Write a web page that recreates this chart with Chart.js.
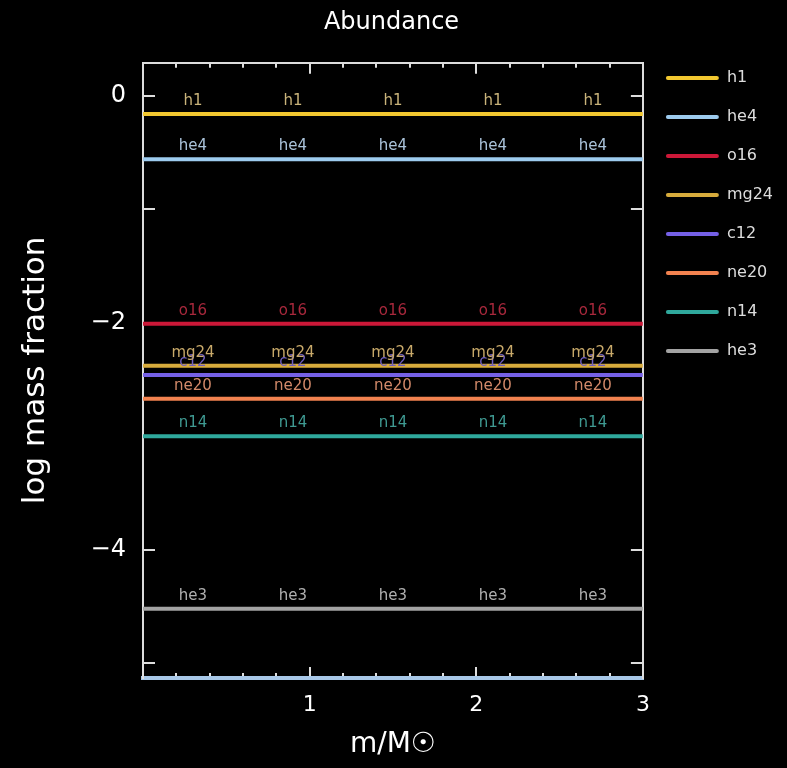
<!DOCTYPE html>
<html>
  <head>
    <style>
      html, body { margin: 0; padding: 0; background: #000; }
      canvas { display: block; }
    </style>
    <script src="https://cdn.jsdelivr.net/npm/chart.js"></script>
  </head>
  <body>
    <canvas id="abundChart" width="787" height="768"></canvas>

    <script>
      // mass coordinate (m/Msun) at the two ends of each profile
      var massPts = [0, 3];

      // log10 mass fraction for each species
      var h1   = [-0.16, -0.16];
      var he4  = [-0.56, -0.56];
      var o16  = [-2.01, -2.01];
      var mg24 = [-2.38, -2.38];
      var c12  = [-2.46, -2.46];
      var ne20 = [-2.67, -2.67];
      var n14  = [-3.00, -3.00];
      var he3  = [-4.52, -4.52];

      var speciesNames = ['h1', 'he4', 'o16', 'mg24', 'c12', 'ne20', 'n14', 'he3'];
      var speciesData  = [h1, he4, o16, mg24, c12, ne20, n14, he3];

      // where the species names are written along each curve
      var labelMass = [0.3, 0.9, 1.5, 2.1, 2.7];

      // y tick labels shown (every other integer)
      var yTickLabels = [0, -2, -4];
      // x tick labels shown
      var xTickLabels = [1, 2, 3];

      var lineColors = ['#f2c830', '#9dcbee', '#cc1838', '#d7ab3c', '#7560e6', '#f2824f', '#2fa89c', '#a3a3a3'];
      var textColors = ['#c9b37a', '#aac3da', '#a8283c', '#c9aa6a', '#6f5fc0', '#d38a6a', '#3f9a92', '#b0b0b0'];

      var datasets = speciesNames.map(function (name, i) {
        return {
          label: name,
          data: massPts.map(function (m, k) { return { x: m, y: speciesData[i][k] }; }),
          borderColor: lineColors[i],
          backgroundColor: lineColors[i],
          borderWidth: 4,
          pointRadius: 0,
          fill: false
        };
      });

      var blackBg = {
        id: 'blackBg',
        beforeDraw: function (chart) {
          var c = chart.ctx;
          c.save();
          c.fillStyle = '#000';
          c.fillRect(0, 0, chart.width, chart.height);
          c.restore();
        }
      };

      // names written just above each curve
      var curveLabels = {
        id: 'curveLabels',
        afterDatasetsDraw: function (chart) {
          var c = chart.ctx, xs = chart.scales.x, ys = chart.scales.y;
          c.save();
          c.font = '15px "DejaVu Sans"';
          c.textAlign = 'center';
          c.textBaseline = 'alphabetic';
          for (var i = chart.data.datasets.length - 1; i >= 0; i--) {
            var ds = chart.data.datasets[i];
            var py = ys.getPixelForValue(ds.data[0].y);
            c.fillStyle = textColors[i];
            labelMass.forEach(function (m) {
              c.fillText(ds.label, xs.getPixelForValue(m), py - 9);
            });
          }
          c.restore();
        }
      };

      var FONT = '"DejaVu Sans", sans-serif';
      var AXIS = '#dddddd';
      var yMin = -5.13, yMax = 0.29;

      function hiddenAxis(pos, min, max, step, tick, weight) {
        var horiz = pos === 'top' || pos === 'bottom';
        return {
          type: 'linear', position: pos, min: min, max: max, weight: weight,
          border: { display: false },
          grid: { drawOnChartArea: false, color: AXIS, lineWidth: 2, tickLength: tick },
          ticks: { display: false, stepSize: step, includeBounds: false },
          afterFit: function (s) { if (horiz) s.height = 0; else s.width = 0; }
        };
      }

      var xTop = hiddenAxis('top', 0, 3, 1, -11, 0);
      xTop.border = { display: true, color: AXIS, width: 2 };
      var yRight = hiddenAxis('right', yMin, yMax, 1, -12, 0);
      yRight.border = { display: true, color: AXIS, width: 2 };

      var ctx = document.getElementById('abundChart').getContext('2d');
      new Chart(ctx, {
        type: 'line',
        data: { datasets: datasets },
        plugins: [blackBg, curveLabels],
        options: {
          responsive: false,
          animation: false,
          devicePixelRatio: 1,
          layout: { padding: { left: 0, top: 0, bottom: 0, right: 4 } },
          scales: {
            x: {
              type: 'linear', position: 'bottom', min: 0, max: 3, weight: 1,
              border: { color: '#a8c8e8', width: 4 },
              grid: { drawOnChartArea: false, color: AXIS, lineWidth: 2, tickLength: -11 },
              ticks: {
                stepSize: 1, includeBounds: false, color: '#fff', padding: 25, maxRotation: 0,
                font: { family: FONT, size: 22 },
                callback: function (v) { return xTickLabels.indexOf(v) >= 0 ? String(v) : ''; }
              },
              title: { display: true, text: 'm/M\u2609', color: '#fff', font: { family: FONT, size: 28 }, padding: { top: 0, bottom: 6 } },
              afterFit: function (s) { s.height = 90; }
            },
            xMinor: hiddenAxis('bottom', 0, 3, 0.2, -5, 0),
            xTop: xTop,
            xTopMinor: hiddenAxis('top', 0, 3, 0.2, -5, 1),
            y: {
              type: 'linear', position: 'left', min: yMin, max: yMax,
              border: { color: AXIS, width: 2 },
              grid: { drawOnChartArea: false, color: AXIS, lineWidth: 2, tickLength: -12 },
              ticks: {
                stepSize: 1, includeBounds: false, color: '#fff', padding: 29,
                font: { family: FONT, size: 24 },
                callback: function (v) {
                  if (yTickLabels.indexOf(v) < 0) return '';
                  return v < 0 ? '\u2212' + Math.abs(v) : String(v);
                }
              },
              title: { display: true, text: 'log mass fraction', color: '#fff', font: { family: FONT, size: 31 }, padding: { top: 17, bottom: 0 } },
              afterFit: function (s) { s.width = 143; }
            },
            yRight: yRight
          },
          plugins: {
            title: {
              display: true, text: 'Abundance', color: '#fff',
              font: { family: FONT, size: 24, weight: 'normal' },
              padding: { top: 8, bottom: 26 }
            },
            legend: {
              position: 'right', align: 'start', fullSize: true, maxWidth: 144,
              title: { display: true, text: '', font: { size: 10 }, padding: { top: 35, bottom: 0 } },
              labels: {
                color: '#dddddd', font: { family: FONT, size: 16 },
                boxWidth: 53, boxHeight: 4, padding: 23,
                generateLabels: function (chart) {
                  return Chart.defaults.plugins.legend.labels.generateLabels(chart).map(function (l) {
                    l.lineWidth = 0;
                    l.fillStyle = l.strokeStyle;
                    l.borderRadius = 2;
                    return l;
                  });
                }
              }
            },
            tooltip: { enabled: false }
          }
        }
      });
    </script>
  </body>
</html>
